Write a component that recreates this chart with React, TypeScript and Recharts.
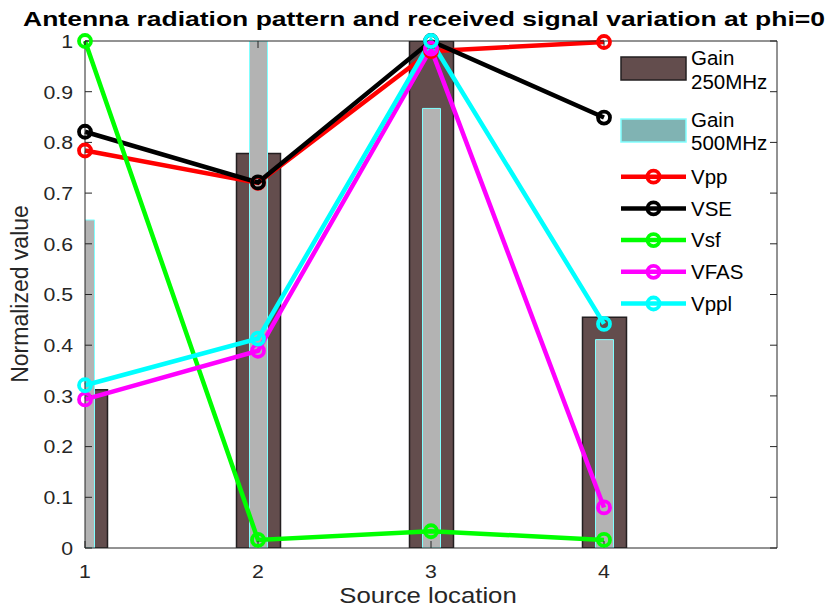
import React from "react";
import { Bar, ComposedChart, Line, XAxis, YAxis } from "recharts";

const locations = [1, 2, 3, 4];
const gain250 = [0.312, 0.778, 1.0, 0.455];
const gain500 = [0.647, 1.0, 0.867, 0.411];
const vpp = [0.784, 0.72, 0.98, 0.998];
const vse = [0.821, 0.721, 1.0, 0.849];
const vsf = [1.0, 0.016, 0.033, 0.016];
const vfas = [0.293, 0.389, 0.985, 0.08];
const vppl = [0.321, 0.413, 1.0, 0.442];
const yTicks = [0, 0.1, 0.2, 0.3, 0.4, 0.5, 0.6, 0.7, 0.8, 0.9, 1];

const FONT = "'Liberation Sans', Arial, Helvetica, sans-serif";
const AXIS = "#262626";
const BROWN = "#634d4d";
const GREY = "#b3b3b3";

const lineSeries = [
  { key: "vpp", name: "Vpp", color: "#ff0000", values: vpp },
  { key: "vse", name: "VSE", color: "#000000", values: vse },
  { key: "vsf", name: "Vsf", color: "#00ff00", values: vsf },
  { key: "vfas", name: "VFAS", color: "#ff00ff", values: vfas },
  { key: "vppl", name: "Vppl", color: "#00ffff", values: vppl },
];

const rows = locations.map((x, i) => {
  const row: Record<string, number> = { x, g250: gain250[i], g500: gain500[i] };
  lineSeries.forEach((s) => {
    row[s.key] = s.values[i];
  });
  return row;
});

function XTick(props: any) {
  const { x, y, payload } = props;
  return (
    <g transform={`translate(${x},${y}) scale(1.12,1)`}>
      <text textAnchor="middle" dy="0.72em" fontSize={19} fontFamily={FONT} fill={AXIS}>
        {payload.value}
      </text>
    </g>
  );
}

function YTick(props: any) {
  const { x, y, payload } = props;
  return (
    <g transform={`translate(${x},${y}) scale(1.12,1)`}>
      <text textAnchor="end" dy="0.36em" fontSize={19} fontFamily={FONT} fill={AXIS}>
        {String(Number(payload.value.toFixed(1)))}
      </text>
    </g>
  );
}

const noTick = () => <g />;

function XLabel() {
  return (
    <g transform="translate(428,603) scale(1.12,1)">
      <text textAnchor="middle" fontSize={23} fontFamily={FONT} fill={AXIS}>
        Source location
      </text>
    </g>
  );
}

function YLabel() {
  return (
    <text
      transform="translate(28,294) rotate(-90)"
      textAnchor="middle"
      fontSize={23}
      fontFamily={FONT}
      fill={AXIS}
    >
      Normalized value
    </text>
  );
}

// open circle marker, same look as matlab 'o'
const ringDot = (color: string) => (p: any) => (
  <circle
    key={`${color}-${p.index}`}
    cx={p.cx}
    cy={p.cy}
    r={6}
    fill="none"
    stroke={color}
    strokeWidth={3.8}
  />
);

function LegendBox() {
  return (
    <svg
      width={829}
      height={607}
      style={{ position: "absolute", left: 0, top: 0, pointerEvents: "none" }}
    >
      <g fontFamily={FONT} fontSize={20.5} fill="#000">
        <rect x={621} y={57} width={65} height={23} fill={BROWN} stroke="#231f20" strokeWidth={1.5} />
        <text x={691} y={65}>Gain</text>
        <text x={691} y={89}>250MHz</text>
        <rect x={621} y={119} width={65} height={23} fill="#80b3b3" stroke="#80ffff" strokeWidth={1.5} />
        <text x={691} y={127}>Gain</text>
        <text x={691} y={150}>500MHz</text>
        {lineSeries.map((s, i) => {
          const cy = 176.7 + i * 31.7;
          return (
            <g key={s.key}>
              <line x1={621} x2={686} y1={cy} y2={cy} stroke={s.color} strokeWidth={4.5} />
              <circle cx={653.5} cy={cy} r={6} fill="none" stroke={s.color} strokeWidth={3.8} />
              <text x={691} y={cy} dy="0.36em">{s.name}</text>
            </g>
          );
        })}
      </g>
    </svg>
  );
}

export default function App() {
  return (
    <div style={{ position: "absolute", left: 0, top: 0, width: 829, height: 607, background: "#fff" }}>
      <svg width={829} height={40} style={{ position: "absolute", left: 0, top: 0 }}>
        <text
          x={424}
          y={26}
          textAnchor="middle"
          fontSize={21}
          fontWeight="bold"
          fontFamily={FONT}
          fill="#000"
          textLength={802}
          lengthAdjust="spacingAndGlyphs"
        >
          Antenna radiation pattern and received signal variation at phi=0
        </text>
      </svg>
      <div style={{ position: "absolute", left: 0, top: 0 }}>
        <ComposedChart width={829} height={607} data={rows} margin={{ top: 0, right: 0, bottom: 0, left: 25 }}>
          <XAxis
            dataKey="x"
            type="number"
            domain={[1, 5]}
            ticks={locations}
            height={59}
            tickSize={-7}
            tickMargin={23}
            tick={<XTick />}
            axisLine={{ stroke: AXIS }}
            tickLine={{ stroke: AXIS }}
            label={<XLabel />}
          />
          <XAxis
            xAxisId="top"
            dataKey="x"
            orientation="top"
            type="number"
            domain={[1, 5]}
            allowDataOverflow
            ticks={locations}
            height={41}
            tickSize={-7}
            tick={noTick}
            axisLine={{ stroke: AXIS }}
            tickLine={{ stroke: AXIS }}
          />
          <XAxis xAxisId="b1" dataKey="x" type="number" domain={[1, 5]} allowDataOverflow hide />
          <XAxis xAxisId="b2" dataKey="x" type="number" domain={[1, 5]} allowDataOverflow hide />
          <YAxis
            type="number"
            domain={[0, 1]}
            ticks={yTicks}
            width={60}
            tickSize={-7}
            tickMargin={19}
            tick={<YTick />}
            axisLine={{ stroke: AXIS }}
            tickLine={{ stroke: AXIS }}
            label={<YLabel />}
          />
          <YAxis
            yAxisId="right"
            orientation="right"
            type="number"
            domain={[0, 1]}
            allowDataOverflow
            ticks={yTicks}
            width={52}
            tickSize={-7}
            tick={noTick}
            axisLine={{ stroke: AXIS }}
            tickLine={{ stroke: AXIS }}
          />
          <YAxis yAxisId="by" type="number" domain={[0, 1]} allowDataOverflow hide />
          <Bar
            xAxisId="b1"
            yAxisId="by"
            dataKey="g250"
            barSize={44}
            fill={BROWN}
            stroke="#231f20"
            strokeWidth={1.5}
            isAnimationActive={false}
          />
          <Bar
            xAxisId="b2"
            yAxisId="by"
            dataKey="g500"
            barSize={18}
            fill={GREY}
            stroke="#80ffff"
            strokeWidth={1}
            isAnimationActive={false}
          />
          {lineSeries.map((s) => (
            <Line
              key={s.key}
              dataKey={s.key}
              type="linear"
              stroke={s.color}
              strokeWidth={4.5}
              dot={ringDot(s.color)}
              activeDot={false}
              isAnimationActive={false}
            />
          ))}
        </ComposedChart>
      </div>
      <LegendBox />
    </div>
  );
}
